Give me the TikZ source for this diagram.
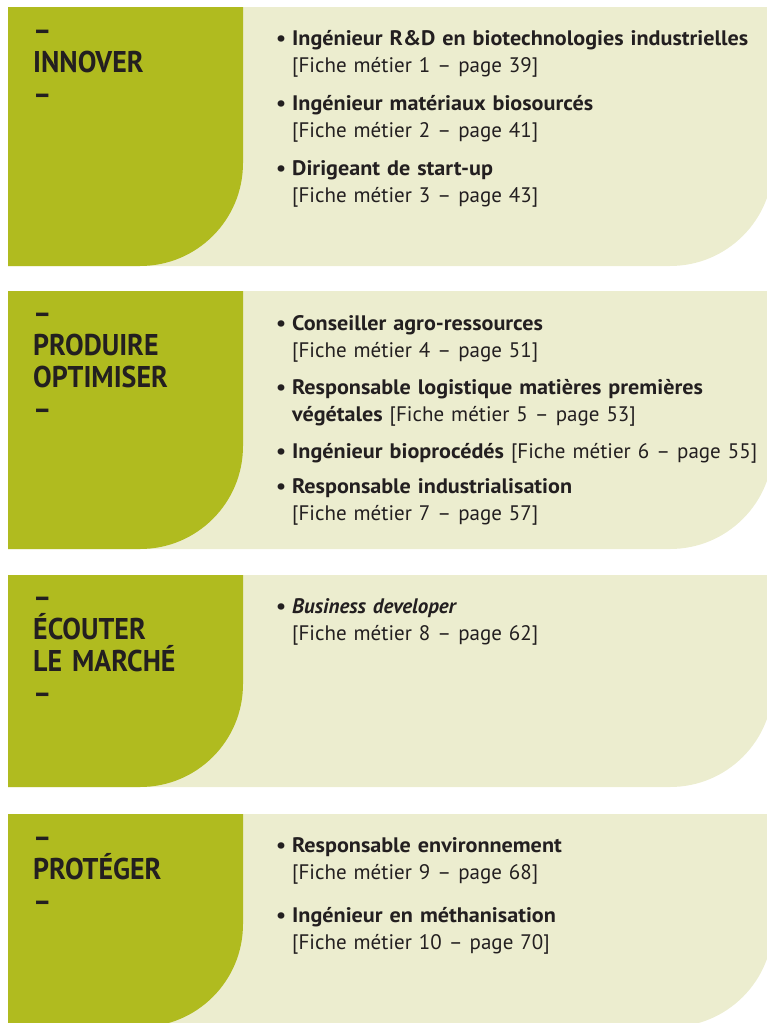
\documentclass[tikz,border=0pt]{standalone}
\usepackage{fontspec}
\setmainfont{PT Sans}[BoldFeatures={FakeStretch=1.055}]
\newfontfamily\headfam{PT Sans}[FakeStretch=0.93,Ligatures=TeX]
\definecolor{leafgreen}{HTML}{B0BB1F}
\definecolor{creamback}{HTML}{ECEDCF}
\definecolor{ink}{HTML}{231F20}
\newcommand\headfont{\headfam\fontsize{30}{32}\selectfont\bfseries}
\newcommand\itemfont{\fontsize{21}{27.5}\selectfont}
\newcommand\bul{\noindent\llap{\textbf{\textbullet}\hspace{6pt}}}

\begin{document}
\begin{tikzpicture}[x=1pt,y=-1pt,
  leaf/.style={fill=leafgreen},
  paper/.style={fill=creamback},
  head/.style={anchor=base west,text width=200pt,align=left,inner sep=0pt,font=\headfont,text=ink},
  job/.style={anchor=base west,text width=470pt,align=left,inner sep=0pt,font=\itemfont,text=ink}]
   \useasboundingbox (0,0) rectangle (766,1023);
   % the four bands
   \foreach \t/\b in {7/266,291/549,575/787,814/1027}{
     \fill[paper] (8,\t) -- (773,\t) -- (773,\b-103) .. controls (773,\b-46) and (727,\b) .. (670,\b) -- (8,\b) -- cycle;
     \fill[leaf] (8,\t) -- (243,\t) -- (243,\b-103) .. controls (243,\b-46) and (197,\b) .. (140,\b) -- (8,\b) -- cycle;
   }
   % headings
   \node[head] (innover) at (33,40) {–\\INNOVER\\–};
   \node[head] (produire) at (33,323) {–\\PRODUIRE\\OPTIMISER\\–};
   \node[head] (ecouter) at (33,607) {–\\ÉCOUTER\\LE MARCHÉ\\–};
   \node[head] (proteger) at (33,847) {–\\PROTÉGER\\–};
   % jobs
   \node[job] (inn1) at (292,45) {\bul\textbf{Ingénieur R\&D en biotechnologies industrielles}\\{[}Fiche métier 1 -- page 39]};
   \node[job] (inn2) at (292,110) {\bul\textbf{Ingénieur matériaux biosourcés}\\{[}Fiche métier 2 -- page 41]};
   \node[job] (inn3) at (292,175) {\bul\textbf{Dirigeant de start-up}\\{[}Fiche métier 3 -- page 43]};
   \node[job] (prod1) at (292,330) {\bul\textbf{Conseiller agro-ressources}\\{[}Fiche métier 4 -- page 51]};
   \node[job] (prod2) at (292,394) {\bul\textbf{Responsable logistique matières premières}\\\textbf{végétales} [Fiche métier 5 -- page 53]};
   \node[job] (prod3) at (292,458) {\bul\textbf{Ingénieur bioprocédés} [Fiche métier 6 -- page 55]};
   \node[job] (prod4) at (292,493) {\bul\textbf{Responsable industrialisation}\\{[}Fiche métier 7 -- page 57]};
   \node[job] (ecou1) at (292,613) {\bul\textbf{\itshape Business developer}\\{[}Fiche métier 8 -- page 62]};
   \node[job] (prot1) at (292,852) {\bul\textbf{Responsable environnement}\\{[}Fiche métier 9 -- page 68]};
   \node[job] (prot2) at (292,922) {\bul\textbf{Ingénieur en méthanisation}\\{[}Fiche métier 10 -- page 70]};
\end{tikzpicture}
\end{document}
